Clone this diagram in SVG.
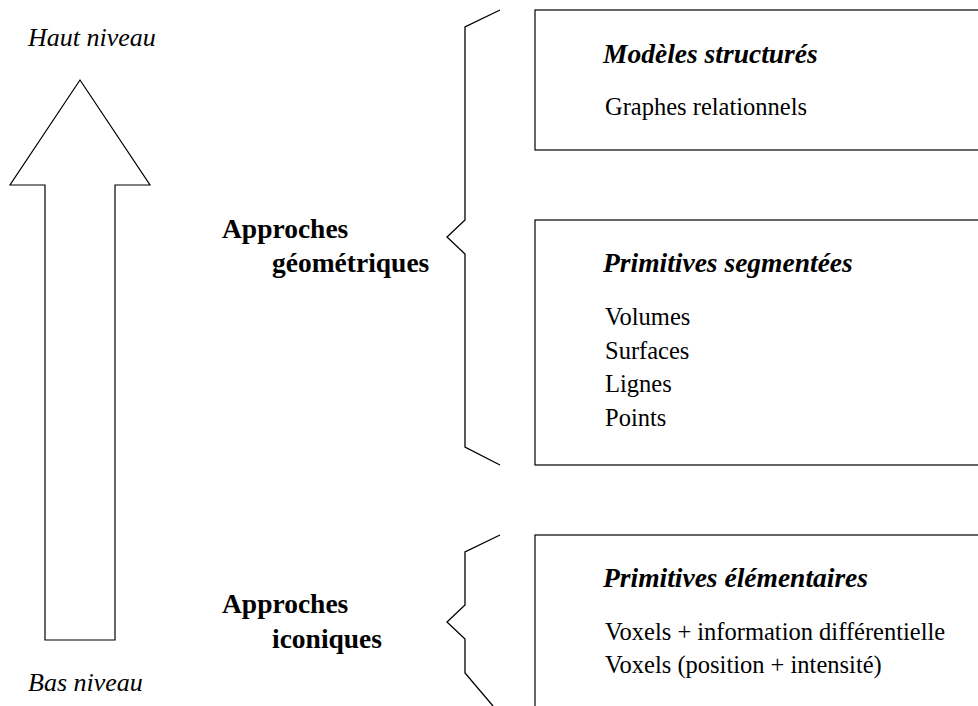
<svg xmlns="http://www.w3.org/2000/svg" width="978" height="706" viewBox="0 0 978 706">
<style>
.ln{fill:none;stroke:#000;stroke-width:1.3}
.bx{fill:#fff;stroke:#000;stroke-width:1.2}
.t{font-family:"Liberation Serif",serif;font-size:24.5px;fill:#000}
.it{font-family:"Liberation Serif",serif;font-size:26px;font-style:italic;fill:#000}
.hd{font-family:"Liberation Serif",serif;font-size:27.5px;font-weight:bold;font-style:italic;fill:#000}
.ap{font-family:"Liberation Serif",serif;font-size:27.5px;font-weight:bold;fill:#000}
</style>
<rect width="978" height="706" fill="#fff"/>
<g id="arrow">
<polygon class="bx" points="80,80 150,185 115,185 115,640 45,640 45,185 10,185"/>
<text class="it" x="28" y="46">Haut niveau</text>
<text class="it" x="28" y="691">Bas niveau</text>
</g>
<g id="braces">
<polyline class="ln" points="500,10 465,27 465,220 447,237 465,254 465,447 500,465"/>
<polyline class="ln" points="500,535 465,552 465,605 447,622 465,639 465,673 493,706"/>
</g>
<g id="label-geo">
<text class="ap" x="222" y="238">Approches</text>
<text class="ap" x="272" y="272">géométriques</text>
</g>
<g id="label-ico">
<text class="ap" x="222" y="613">Approches</text>
<text class="ap" x="272" y="648">iconiques</text>
</g>
<g id="box-modeles">
<rect class="bx" x="535" y="10" width="460" height="140"/>
<text class="hd" x="603" y="63">Modèles structurés</text>
<text class="t" x="605" y="115">Graphes relationnels</text>
</g>
<g id="box-segmentees">
<rect class="bx" x="535" y="220" width="460" height="245"/>
<text class="hd" x="603" y="272">Primitives segmentées</text>
<text class="t" x="605" y="325">Volumes</text>
<text class="t" x="605" y="359">Surfaces</text>
<text class="t" x="605" y="392">Lignes</text>
<text class="t" x="605" y="426">Points</text>
</g>
<g id="box-elementaires">
<rect class="bx" x="535" y="535" width="460" height="200"/>
<text class="hd" x="603" y="587">Primitives élémentaires</text>
<text class="t" x="605" y="640">Voxels + information différentielle</text>
<text class="t" x="605" y="673">Voxels (position + intensité)</text>
</g>
</svg>
